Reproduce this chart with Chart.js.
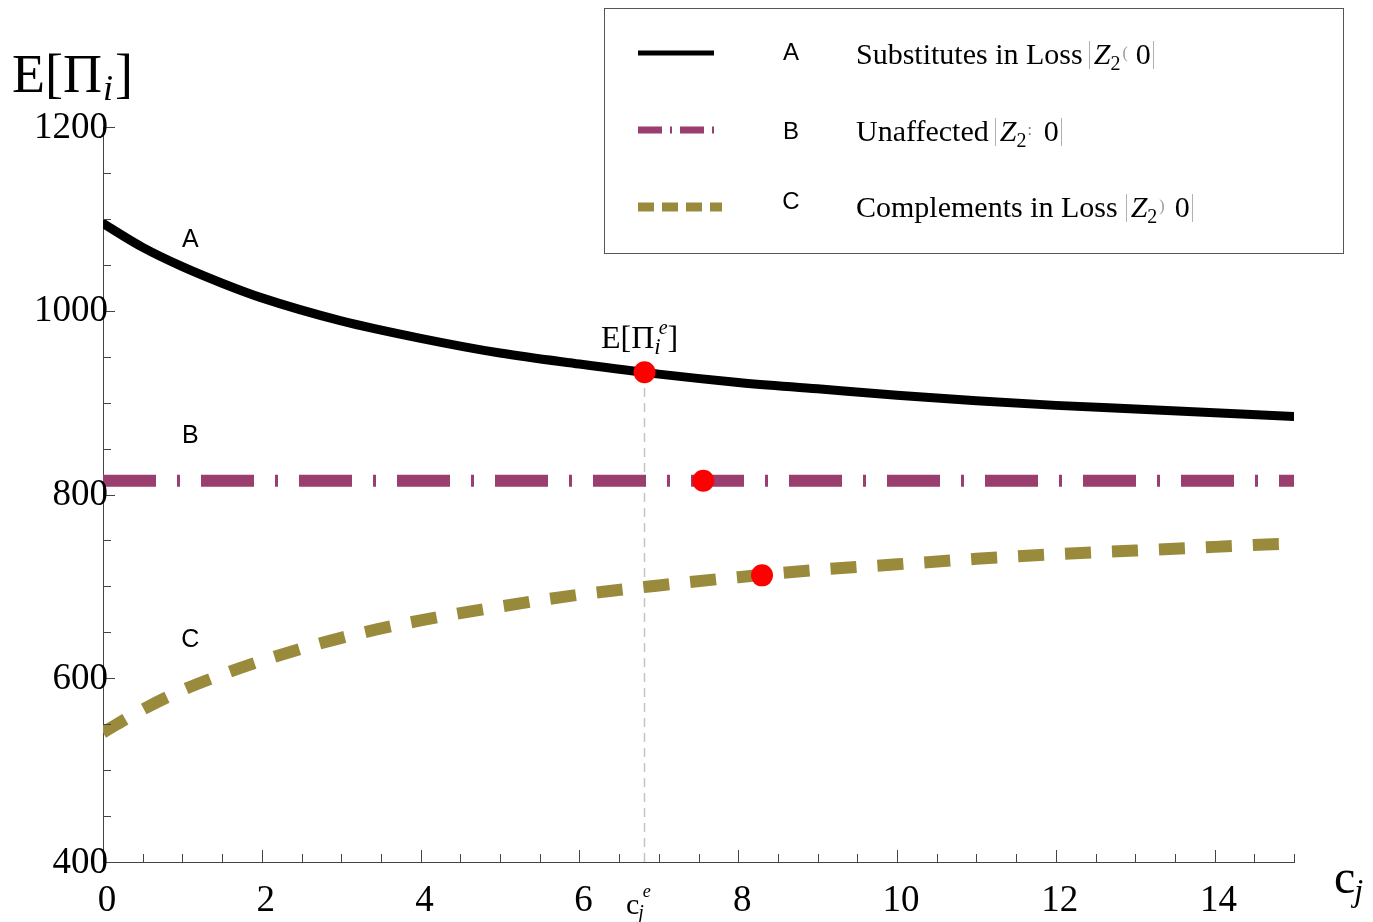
<!DOCTYPE html>
<html>
<head>
<meta charset="utf-8">
<script src="https://cdn.jsdelivr.net/npm/chart.js@4.4.0/dist/chart.umd.min.js"></script>
<style>
html, body { margin: 0; padding: 0; background: #fff; }
#wrap { width: 1373px; height: 922px; position: relative; }
</style>
</head>
<body>
<div id="wrap"><canvas id="diagram"></canvas></div>
<script>
// values
const cjValues = [0, 0.5, 1, 1.5, 2, 3, 4, 5, 6, 7, 8, 9, 10, 11, 12, 13, 14, 15];
const substitutesLoss = [1095, 1069, 1048, 1030, 1014, 989, 970, 954, 942, 931, 922, 915, 908, 902, 897, 893, 889, 885];
const unaffected = [815, 815, 815, 815, 815, 815, 815, 815, 815, 815, 815, 815, 815, 815, 815, 815, 815, 815];
const complementsLoss = [541, 566, 587, 604, 619, 644, 663, 678, 691, 701, 710, 718, 724, 730, 735, 739, 743, 747];

const equilibriumX = [6.82, 7.56, 8.30];
const equilibriumY = [933, 815, 712];

const xTicks = [0, 2, 4, 6, 8, 10, 12, 14];
const yTicks = [400, 600, 800, 1000, 1200];

const PURPLE = "#9a3d6f";
const OLIVE = "#9a8b3c";
const SERIF = "'Liberation Serif', 'Times New Roman', serif";
const SANS = "'Liberation Sans', Arial, sans-serif";

const toPoints = (ys) => cjValues.map((x, i) => ({ x: x, y: ys[i] }));

function drawRuns(ctx, x0, base, runs) {
    let cx = x0;
    for (const r of runs) {
        if (r.bar) {
            ctx.save();
            ctx.strokeStyle = "#b0b0b0";
            ctx.lineWidth = 1;
            ctx.beginPath();
            ctx.moveTo(Math.round(cx + r.bar) + 0.5, base - 23);
            ctx.lineTo(Math.round(cx + r.bar) + 0.5, base + 5);
            ctx.stroke();
            ctx.restore();
            cx += r.bar * 2 + 1;
            continue;
        }
        ctx.font = r.font;
        ctx.fillStyle = r.color || "#000";
        ctx.textBaseline = "alphabetic";
        ctx.textAlign = "left";
        ctx.fillText(r.t, cx, base + (r.dy || 0));
        cx += ctx.measureText(r.t).width + (r.sp || 0);
    }
}

const decorations = {
    id: "decorations",
    afterDraw(chart) {
        const { ctx } = chart;
        const x = chart.scales.x;
        const y = chart.scales.y;
        ctx.save();

        // inward tick marks
        ctx.strokeStyle = "#444";
        ctx.lineWidth = 1;
        for (let v = 400; v <= 1200; v += 50) {
            const py = Math.round(y.getPixelForValue(v)) + 0.5;
            const len = yTicks.includes(v) ? 12 : 8;
            ctx.beginPath();
            ctx.moveTo(x.left, py);
            ctx.lineTo(x.left + len, py);
            ctx.stroke();
        }
        for (let v = 0.5; v <= 15; v += 0.5) {
            const px = Math.round(x.getPixelForValue(v)) + 0.5;
            const len = xTicks.includes(v) ? 12 : 8;
            ctx.beginPath();
            ctx.moveTo(px, y.bottom);
            ctx.lineTo(px, y.bottom - len);
            ctx.stroke();
        }

        // y tick labels overlap the axis line, so they are drawn here from the scale's ticks
        ctx.font = "37px " + SERIF;
        ctx.fillStyle = "#000";
        ctx.textAlign = "right";
        ctx.textBaseline = "middle";
        for (const t of y.ticks) {
            ctx.fillText(String(t.value), x.left + 5, y.getPixelForValue(t.value) + 1);
        }

        // curve labels
        ctx.font = "25px " + SANS;
        ctx.textAlign = "center";
        ctx.textBaseline = "middle";
        ctx.fillText("A", x.getPixelForValue(1.1), y.getPixelForValue(1077));
        ctx.fillText("B", x.getPixelForValue(1.1), y.getPixelForValue(864));
        ctx.fillText("C", x.getPixelForValue(1.1), y.getPixelForValue(641));

        // E[Pi_i^e] above the equilibrium point
        drawRuns(ctx, 601, 348, [
            { t: "E[\u03A0", font: "32px " + SERIF },
            { t: "i", font: "italic 23px " + SERIF, dy: 6, sp: -2 },
            { t: "e", font: "italic 20px " + SERIF, dy: -14, sp: 0 },
            { t: "]", font: "32px " + SERIF }
        ]);

        // c_j^e under the axis
        drawRuns(ctx, 626, 914, [
            { t: "c", font: "30px " + SERIF, sp: -1 },
            { t: "j", font: "italic 20px " + SERIF, dy: 5, sp: -1 },
            { t: "e", font: "italic 18px " + SERIF, dy: -17 }
        ]);

        // axis titles
        drawRuns(ctx, 12, 92, [
            { t: "E[\u03A0", font: "54px " + SERIF, sp: 1 },
            { t: "i", font: "italic 36px " + SERIF, dy: 8, sp: 2 },
            { t: "]", font: "54px " + SERIF }
        ]);
        drawRuns(ctx, 1334, 893, [
            { t: "c", font: "48px " + SERIF, sp: -1 },
            { t: "j", font: "italic 32px " + SERIF, dy: 8 }
        ]);

        // legend box
        ctx.strokeStyle = "#555";
        ctx.lineWidth = 1;
        ctx.strokeRect(604.5, 8.5, 739, 245);

        const samples = [
            { yy: 53, color: "#000", width: 5, dash: [], x1: 638, x2: 714 },
            { yy: 130, color: PURPLE, width: 7, dash: [24, 8, 2, 8], x1: 638, x2: 718 },
            { yy: 207, color: OLIVE, width: 9, dash: [16, 8], x1: 638, x2: 722 }
        ];
        for (const s of samples) {
            ctx.beginPath();
            ctx.setLineDash(s.dash);
            ctx.strokeStyle = s.color;
            ctx.lineWidth = s.width;
            ctx.lineCap = "butt";
            ctx.moveTo(s.x1, s.yy);
            ctx.lineTo(s.x2, s.yy);
            ctx.stroke();
        }
        ctx.setLineDash([]);

        ctx.font = "24px " + SANS;
        ctx.fillStyle = "#000";
        ctx.textAlign = "center";
        ctx.textBaseline = "middle";
        ctx.fillText("A", 791, 53);
        ctx.fillText("B", 791, 132);
        ctx.fillText("C", 791, 202);

        const body = "30px " + SERIF;
        const zed = "italic 30px " + SERIF;
        const sub = "20px " + SERIF;
        const tiny = "16px " + SERIF;
        drawRuns(ctx, 856, 64, [
            { t: "Substitutes in Loss", font: body, sp: 2 },
            { bar: 4 },
            { t: "Z", font: zed },
            { t: "2", font: sub, dy: 6, sp: 2 },
            { t: "(", font: tiny, color: "#999", dy: -6, sp: 8 },
            { t: "0", font: body, sp: 1 },
            { bar: 1 }
        ]);
        drawRuns(ctx, 856, 141, [
            { t: "Unaffected", font: body, sp: 2 },
            { bar: 4 },
            { t: "Z", font: zed },
            { t: "2", font: sub, dy: 6, sp: 1 },
            { t: ":", font: tiny, color: "#777", dy: -6, sp: 12 },
            { t: "0", font: body, sp: 1 },
            { bar: 1 }
        ]);
        drawRuns(ctx, 856, 217, [
            { t: "Complements in Loss", font: body, sp: 4 },
            { bar: 4 },
            { t: "Z", font: zed },
            { t: "2", font: sub, dy: 6, sp: 2 },
            { t: ")", font: tiny, color: "#999", dy: -6, sp: 10 },
            { t: "0", font: body, sp: 1 },
            { bar: 1 }
        ]);

        ctx.restore();
    }
};

const ctx = document.getElementById("diagram");

new Chart(ctx, {
    type: "line",
    data: {
        datasets: [
            {
                label: "Equilibrium",
                data: equilibriumX.map((x, i) => ({ x: x, y: equilibriumY[i] })),
                showLine: false,
                pointRadius: 11,
                pointBackgroundColor: "#ff0000",
                pointBorderWidth: 0,
                order: 0,
            },
            {
                label: "A  Substitutes in Loss",
                data: toPoints(substitutesLoss),
                borderColor: "#000",
                borderWidth: 9,
                borderCapStyle: "round",
                pointRadius: 0,
                cubicInterpolationMode: "monotone",
                order: 1,
            },
            {
                label: "B  Unaffected",
                data: toPoints(unaffected),
                borderColor: PURPLE,
                borderWidth: 12,
                borderDash: [53, 21, 3, 21],
                borderCapStyle: "butt",
                pointRadius: 0,
                order: 2,
            },
            {
                label: "C  Complements in Loss",
                data: toPoints(complementsLoss),
                borderColor: OLIVE,
                borderWidth: 12,
                borderDash: [26, 21],
                borderCapStyle: "butt",
                pointRadius: 0,
                cubicInterpolationMode: "monotone",
                order: 3,
            },
            {
                label: "c_j^e",
                data: [{ x: equilibriumX[0], y: 400 }, { x: equilibriumX[0], y: equilibriumY[0] }],
                borderColor: "#c4c4c4",
                borderWidth: 1.5,
                borderDash: [9, 6],
                pointRadius: 0,
                order: 4,
            },
        ],
    },
    options: {
        responsive: true,
        maintainAspectRatio: false,
        animation: false,
        layout: { padding: { left: 0, right: 79, top: 127, bottom: 0 } },
        plugins: {
            legend: { display: false },
            tooltip: { enabled: false },
        },
        scales: {
            x: {
                type: "linear",
                min: 0,
                max: 15,
                afterFit: (scale) => { scale.height = 60; },
                border: { display: true, color: "#444", width: 1 },
                grid: { drawOnChartArea: false, drawTicks: false },
                ticks: {
                    stepSize: 2,
                    includeBounds: false,
                    autoSkip: false,
                    maxRotation: 0,
                    padding: 17,
                    labelOffset: 4,
                    color: "#000",
                    font: { family: SERIF, size: 37 },
                },
            },
            y: {
                min: 400,
                max: 1200,
                afterFit: (scale) => { scale.width = 103; },
                border: { display: true, color: "#444", width: 1 },
                grid: { drawOnChartArea: false, drawTicks: false },
                ticks: {
                    stepSize: 200,
                    includeBounds: false,
                    display: false,
                },
            },
        },
    },
    plugins: [decorations],
});
</script>
</body>
</html>
